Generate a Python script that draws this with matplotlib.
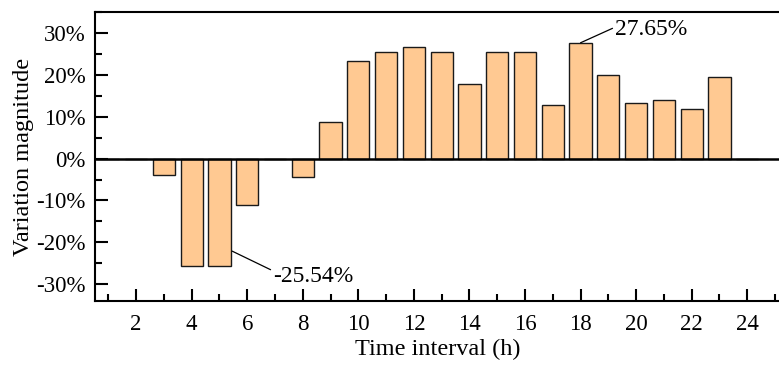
import matplotlib
matplotlib.use("Agg")
import matplotlib.pyplot as plt
from matplotlib.ticker import MultipleLocator, FuncFormatter

hours = list(range(1, 25))
variation = [0.0, 0.0, -4.0, -25.54, -25.54, -11.1, 0.0, -4.4, 8.7, 23.3, 25.5, 26.7,
             25.4, 17.8, 25.4, 25.4, 12.7, 27.65, 20.0, 13.3, 14.0, 11.8, 19.4, 0.0]
x_ticks = [2, 4, 6, 8, 10, 12, 14, 16, 18, 20, 22, 24]
y_ticks = [-30, -20, -10, 0, 10, 20, 30]

plt.rcParams['font.family'] = ['Liberation Serif', 'DejaVu Serif']

fig = plt.figure(figsize=(7.79, 3.65), dpi=100)
ax = fig.add_axes([95/779, 1-301/365, 1-95/779 + 0.002, (301-12)/365])

ax.bar(hours, variation, width=0.8, color='#FFC992', edgecolor='#1a1a1a', linewidth=1.0, zorder=2)
ax.axhline(0, color='black', linewidth=1.8, zorder=3)

ax.set_xlim(0.52, 25.2)
ax.set_ylim(-34, 35)
ax.set_xticks(x_ticks)
ax.xaxis.set_minor_locator(MultipleLocator(1))
ax.set_yticks(y_ticks)
ax.yaxis.set_minor_locator(MultipleLocator(5))
ax.yaxis.set_major_formatter(FuncFormatter(lambda v, p: f"{int(v)}%"))

ax.tick_params(which='major', direction='in', length=9, width=1.5, labelsize=16.5)
ax.tick_params(axis='x', which='major', pad=9)
ax.tick_params(axis='y', which='major', pad=7)
ax.tick_params(which='minor', direction='in', length=5, width=1.5)
ax.tick_params(axis='y', which='both', right=False)
ax.tick_params(axis='x', which='both', top=False)
for s in ['left', 'top', 'bottom']:
    ax.spines[s].set_linewidth(1.5)
ax.spines['right'].set_visible(False)

ax.set_xlabel('Time interval (h)', fontsize=17.5, labelpad=3)
ax.set_ylabel('Variation magnitude', fontsize=17.5, labelpad=1)

ax.annotate('27.65%', xy=(18, 27.65), xytext=(19.25, 30.9), fontsize=17,
            va='center', ha='left',
            arrowprops=dict(arrowstyle='-', color='black', lw=0.9, shrinkA=0, shrinkB=0,
                            relpos=(0, 0.6)))
ax.annotate('-25.54%', xy=(5.46, -22.1), xytext=(6.94, -28.1), fontsize=17,
            va='center', ha='left',
            arrowprops=dict(arrowstyle='-', color='black', lw=0.9, shrinkA=0, shrinkB=0,
                            relpos=(0, 0.75)))

fig.savefig('out.png', dpi=100)
